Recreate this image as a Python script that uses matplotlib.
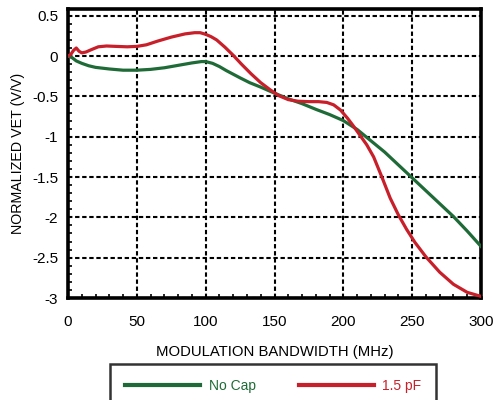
import matplotlib
matplotlib.use("Agg")
import matplotlib.pyplot as plt
from matplotlib.ticker import MultipleLocator

plt.rcParams['font.family'] = ['Liberation Sans', 'DejaVu Sans']
plt.rcParams['axes.unicode_minus'] = False

# ---- data ----
no_cap_x = [0, 3, 6, 10, 15, 20, 30, 40, 50, 60, 70, 80, 90, 97, 100, 105, 110, 115, 120, 125,
            132, 140, 150, 160, 170, 180, 190, 200, 210, 220, 230, 240, 250, 260, 270, 280, 290, 300]
no_cap_y = [0, -0.02, -0.06, -0.09, -0.12, -0.14, -0.16, -0.175, -0.175, -0.165, -0.145, -0.115,
            -0.085, -0.068, -0.068, -0.09, -0.13, -0.18, -0.225, -0.27, -0.33, -0.385, -0.46, -0.53,
            -0.59, -0.66, -0.725, -0.80, -0.91, -1.05, -1.19, -1.35, -1.51, -1.67, -1.83, -1.99,
            -2.17, -2.36]

pf15_x = [0, 2, 4, 6, 8, 10, 13, 17, 22, 28, 35, 43, 50, 57, 65, 75, 85, 92, 96, 100, 104, 108,
          114, 120, 126, 133, 140, 147, 153, 160, 167, 175, 182, 188, 193, 198, 203, 207, 212, 217,
          222, 228, 234, 240, 246, 252, 260, 270, 280, 290, 300]
pf15_y = [0, 0.02, 0.07, 0.10, 0.06, 0.04, 0.05, 0.08, 0.115, 0.125, 0.12, 0.115, 0.12, 0.14,
          0.185, 0.235, 0.275, 0.29, 0.29, 0.27, 0.24, 0.20, 0.11, 0.01, -0.10, -0.22, -0.33, -0.42,
          -0.49, -0.54, -0.56, -0.565, -0.565, -0.575, -0.605, -0.67, -0.77, -0.86, -0.98, -1.10,
          -1.25, -1.50, -1.76, -1.97, -2.15, -2.31, -2.49, -2.68, -2.83, -2.93, -2.98]

x_ticks = [0, 50, 100, 150, 200, 250, 300]
x_tick_labels = ['0', '50', '100', '150', '200', '250', '300']
y_ticks = [0.5, 0, -0.5, -1, -1.5, -2, -2.5, -3]
y_tick_labels = ['0.5', '0', '-0.5', '-1', '-1.5', '-2', '-2.5', '-3']

series_labels = ['No Cap', '1.5 pF']
series_colors = ['#1f6b37', '#c8202a']

# ---- figure ----
fig = plt.figure(figsize=(4.93, 4.00), dpi=100)
ax = fig.add_axes([68/493, 1 - 298/400, (481-68)/493, (298-8.5)/400])

ax.plot(no_cap_x, no_cap_y, color=series_colors[0], lw=2.3, label=series_labels[0],
        solid_joinstyle='round', zorder=3)
ax.plot(pf15_x, pf15_y, color=series_colors[1], lw=2.3, label=series_labels[1],
        solid_joinstyle='round', zorder=4)

ax.set_xlim(0, 300)
ax.set_ylim(-3, 0.59)
ax.set_xticks(x_ticks)
ax.set_xticklabels(x_tick_labels)
ax.set_yticks(y_ticks)
ax.set_yticklabels(y_tick_labels)
ax.xaxis.set_minor_locator(MultipleLocator(10))
ax.yaxis.set_minor_locator(MultipleLocator(0.1))
ax.tick_params(which='major', length=0, labelsize=11)
ax.tick_params(axis='x', which='major', pad=12)
ax.tick_params(axis='y', which='major', pad=7)
ax.tick_params(which='minor', direction='in', length=3, width=1.2, color='black')

ax.grid(True, which='major', color='black', linestyle=(0, (2.1, 1.3)), linewidth=1.5)

for s in ax.spines.values():
    s.set_linewidth(2.6)
    s.set_color('black')

ax.set_xlabel('MODULATION BANDWIDTH (MHz)', fontsize=10.7, labelpad=12)
ax.set_ylabel('NORMALIZED VET (V/V)', fontsize=10.3, labelpad=5)

leg = ax.legend(loc='upper left', bbox_to_anchor=(110/493, 1 - 364/400),
                bbox_transform=fig.transFigure, ncol=2, fontsize=10,
                handlelength=5.4, handletextpad=0.6, columnspacing=3.1,
                borderpad=1.1, borderaxespad=0, frameon=True, fancybox=False)
leg.get_frame().set_edgecolor('black')
leg.get_frame().set_linewidth(1.8)
for txt, c in zip(leg.get_texts(), series_colors):
    txt.set_color(c)
for ln in leg.get_lines():
    ln.set_linewidth(3)

fig.savefig('out.png', dpi=100)
